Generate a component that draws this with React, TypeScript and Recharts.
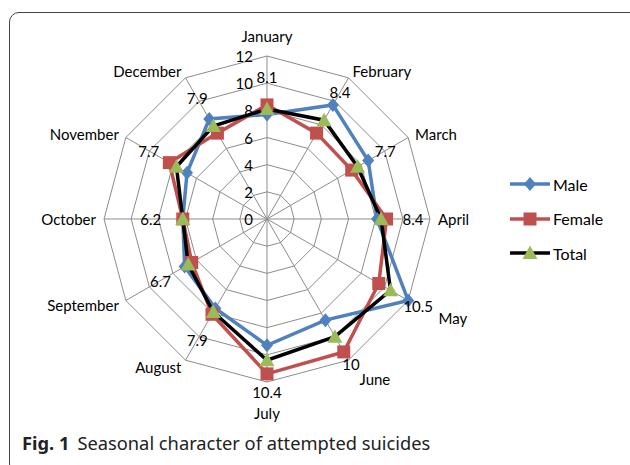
import { RadarChart, Radar, PolarGrid, PolarAngleAxis, PolarRadiusAxis, Legend } from 'recharts'

const months = ['January', 'February', 'March', 'April', 'May', 'June', 'July', 'August', 'September', 'October', 'November', 'December']
const male = [7.7, 9.7, 8.6, 8.1, 12, 8.6, 9.3, 7.6, 7.0, 6.2, 6.8, 8.5]
const female = [8.4, 7.3, 7.2, 8.8, 9.5, 11.3, 11.4, 8.1, 6.4, 6.2, 8.3, 7.3]
const total = [8.1, 8.4, 7.7, 8.4, 10.5, 10, 10.4, 7.9, 6.7, 6.2, 7.7, 7.9]
const radiusTicks = [0, 2, 4, 6, 8, 10, 12]
const seriesOrder = ['Male', 'Female', 'Total']

const data = months.map((m, i) => ({ month: m, male: male[i], female: female[i], total: total[i] }))

const CX = 267
const CY = 219
const R = 163
const FONT = 'Lato, "Noto Sans", sans-serif'
const BLUE = '#4F81BD'
const RED = '#C0504D'
const GREEN = '#9BBB59'

// extra gap between outer ring and month label (pushed out where data labels sit)
const labelGap = [20, 8, 8, 8, 35, 22, 31, 8, 8, 8, 8, 8]

function MonthTick(props: any) {
  const { payload, index } = props
  const a = (payload.coordinate * Math.PI) / 180
  const ux = Math.cos(a)
  const uy = -Math.sin(a)
  const r = R + labelGap[index]
  const x = CX + ux * r
  const y = CY + uy * r
  const anchor = Math.abs(ux) < 0.01 ? 'middle' : ux > 0 ? 'start' : 'end'
  return (
    <text x={x} y={y} textAnchor={anchor} dominantBaseline="central" fontSize={15} fontFamily={FONT} fill="#000">
      {payload.value}
    </text>
  )
}

function RadiusTick(props: any) {
  const { x, y, payload } = props
  return (
    <text x={x - 14} y={y} textAnchor="end" dominantBaseline="central" fontSize={15} fontFamily={FONT} fill="#000">
      {payload.value}
    </text>
  )
}

const Diamond = (props: any) => {
  const { cx, cy, index } = props
  return <path key={'m' + index} d={`M${cx},${cy - 7}L${cx + 6},${cy}L${cx},${cy + 7}L${cx - 6},${cy}Z`} fill={BLUE} />
}

const Square = (props: any) => {
  const { cx, cy, index } = props
  return <rect key={'f' + index} x={cx - 6.5} y={cy - 6.5} width={13} height={13} fill={RED} />
}

const TriangleWithLabel = (props: any) => {
  const { cx, cy, index } = props
  const dx = cx - CX
  const dy = cy - CY
  const len = Math.hypot(dx, dy) || 1
  const lx = cx + (dx / len) * 32
  const ly = cy + (dy / len) * 32
  return (
    <g key={'t' + index}>
      <path d={`M${cx},${cy - 7.5}L${cx + 7.5},${cy + 6}L${cx - 7.5},${cy + 6}Z`} fill={GREEN} />
      <text x={lx} y={ly} textAnchor="middle" dominantBaseline="central" fontSize={15} fontFamily={FONT} fill="#000">
        {total[index]}
      </text>
    </g>
  )
}

function LegendBox(props: any) {
  const items = [...(props.payload || [])].sort(
    (a: any, b: any) => seriesOrder.indexOf(a.value) - seriesOrder.indexOf(b.value)
  )
  const icon = (name: string) => {
    if (name === 'Male') return <path d="M20,2L26,9L20,16L14,9Z" fill={BLUE} />
    if (name === 'Female') return <rect x={13.5} y={2.5} width={13} height={13} fill={RED} />
    return <path d="M20,1.5L27.5,15L12.5,15Z" fill={GREEN} />
  }
  return (
    <div>
      {items.map((it: any) => (
        <div key={it.value} style={{ display: 'flex', alignItems: 'center', height: 34.5 }}>
          <svg width={42} height={18}>
            <line x1={0} y1={9} x2={40} y2={9} stroke={it.color} strokeWidth={3.5} />
            {icon(it.value)}
          </svg>
          <span style={{ fontFamily: FONT, fontSize: 16, marginLeft: 1 }}>{it.value}</span>
        </div>
      ))}
    </div>
  )
}

export default function App() {
  return (
    <div style={{ position: 'absolute', left: 0, top: 0, width: 630, height: 465, overflow: 'hidden', background: '#fff' }}>
      <div
        style={{
          position: 'absolute',
          left: 9,
          top: 12,
          width: 650,
          height: 460,
          border: '1px solid #444',
          borderRadius: 10,
        }}
      />
      <RadarChart
        width={630}
        height={465}
        data={data}
        cx={CX}
        cy={CY}
        outerRadius={R}
        margin={{ top: 0, right: 0, bottom: 0, left: 0 }}
        style={{ position: 'absolute', left: 0, top: 0 }}
      >
        <PolarGrid gridType="polygon" stroke="#8c8c8c" strokeWidth={1} />
        <PolarAngleAxis dataKey="month" tick={MonthTick} tickLine={false} axisLine={false} />
        <PolarRadiusAxis angle={90} domain={[0, 12]} ticks={radiusTicks} tickCount={7} axisLine={false} tick={RadiusTick} />
        <Radar name="Male" dataKey="male" stroke={BLUE} strokeWidth={3.5} fill="none" dot={Diamond} isAnimationActive={false} />
        <Radar name="Female" dataKey="female" stroke={RED} strokeWidth={3.5} fill="none" dot={Square} isAnimationActive={false} />
        <Radar name="Total" dataKey="total" stroke="#000" strokeWidth={3.5} fill="none" dot={TriangleWithLabel} isAnimationActive={false} />
        <Legend
          layout="vertical"
          content={LegendBox}
          wrapperStyle={{ position: 'absolute', left: 510, top: 167, width: 110 }}
        />
      </RadarChart>
      <div
        style={{
          position: 'absolute',
          left: 22,
          top: 430,
          fontFamily: '"Noto Sans", sans-serif',
          fontSize: 18.3,
          color: '#222',
          whiteSpace: 'nowrap',
        }}
      >
        <b>Fig. 1</b>
        <span style={{ marginLeft: 8 }}>Seasonal character of attempted suicides</span>
      </div>
    </div>
  )
}
